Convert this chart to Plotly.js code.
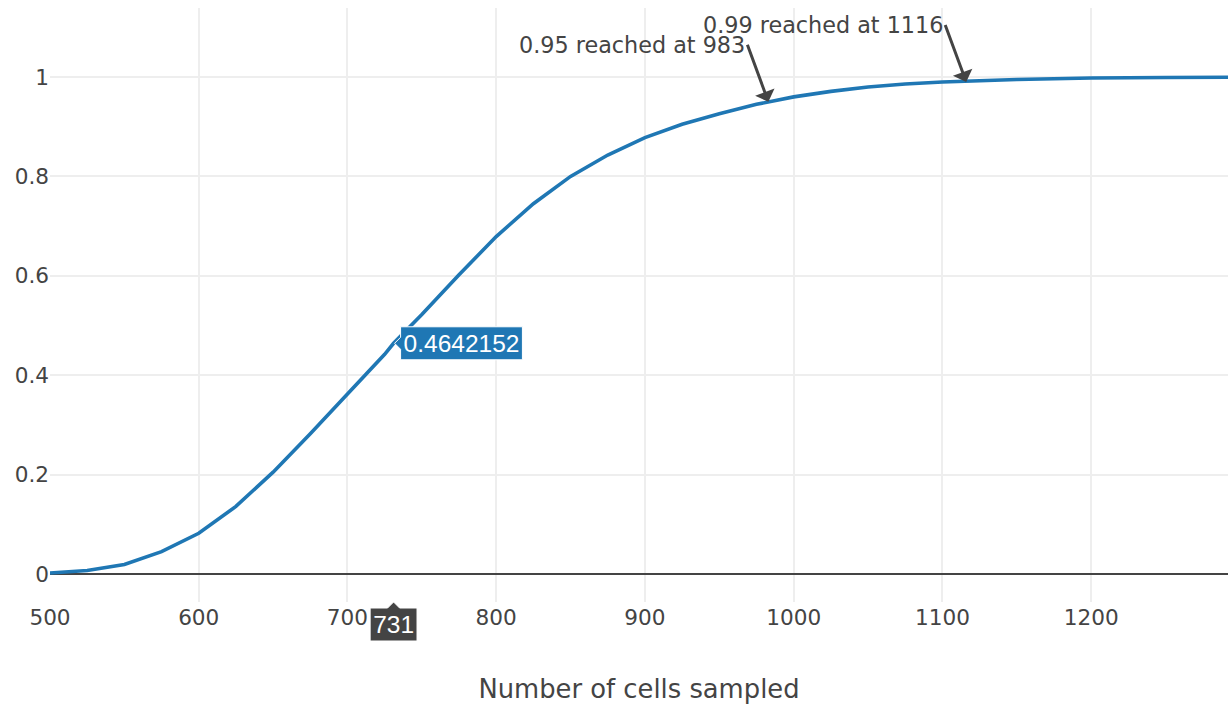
<!DOCTYPE html>
<html>
<head>
<meta charset="utf-8">
<script src="https://cdn.plot.ly/plotly-3.0.1.min.js"></script>
<style>
html, body { margin: 0; padding: 0; background: #fff; }
#chart { width: 1228px; height: 704px; }
</style>
</head>
<body>
<div id="chart"></div>
<script>
// Data
const cellsSampled = [500, 525, 550, 575, 600, 625, 650, 675, 700, 725, 731, 750, 775, 800, 825, 850, 875, 900, 925, 950, 975, 1000, 1025, 1050, 1075, 1100, 1150, 1200, 1250, 1292];
const probability = [0.002, 0.007, 0.019, 0.045, 0.082, 0.136, 0.205, 0.282, 0.362, 0.442, 0.4642152, 0.522, 0.602, 0.679, 0.745, 0.800, 0.843, 0.878, 0.905, 0.926, 0.945, 0.960, 0.971, 0.980, 0.986, 0.990, 0.995, 0.998, 0.999, 0.9996];

const markX = [983, 1116];
const markY = [0.95, 0.99];
const markText = ['0.95 reached at 983', '0.99 reached at 1116'];

const hoverX = 731;
const xTitle = 'Number of cells sampled';

const tickFont = { family: 'DejaVu Sans, Verdana, sans-serif', size: 21.6, color: '#444' };

const annotations = markX.map((x, i) => ({
  x: x, y: markY[i], xref: 'x', yref: 'y',
  text: markText[i],
  showarrow: true, arrowhead: 1, arrowsize: 1.15, arrowwidth: 3, arrowcolor: '#444',
  ax: -21, ay: -57, xanchor: 'right',
  font: { family: 'DejaVu Sans, Verdana, sans-serif', size: 22.3, color: '#444' }
}));

const trace = {
  x: cellsSampled, y: probability,
  type: 'scatter', mode: 'lines',
  line: { color: '#1f77b4', width: 3.6 },
  hovertemplate: '%{y:.7f}<extra></extra>'
};

const layout = {
  width: 1228, height: 704,
  margin: { l: 50, r: 0, t: 8, b: 102 },
  paper_bgcolor: '#fff', plot_bgcolor: '#fff',
  showlegend: false,
  hovermode: 'x',
  hoverlabel: { font: { family: 'Liberation Sans, Arial, sans-serif', size: 24.5 } },
  xaxis: {
    range: [500, 1292], dtick: 100, tick0: 0,
    showgrid: true, gridcolor: '#eee', gridwidth: 2,
    zeroline: false, showline: false, ticks: '',
    automargin: false,
    tickfont: tickFont,
    title: { text: xTitle, standoff: 52, font: { family: 'DejaVu Sans, Verdana, sans-serif', size: 25.8, color: '#444' } }
  },
  yaxis: {
    range: [-0.0563, 1.1388], dtick: 0.2, tick0: 0,
    showgrid: true, gridcolor: '#eee', gridwidth: 2,
    zeroline: true, zerolinecolor: '#444', zerolinewidth: 2,
    showline: false, ticks: '', automargin: false,
    tickfont: tickFont
  },
  annotations: annotations
};

const gd = document.getElementById('chart');
Plotly.newPlot(gd, [trace], layout, { displayModeBar: false }).then(() => {
  Plotly.Fx.hover(gd, { xval: hoverX }, 'xy');
});
</script>
</body>
</html>
